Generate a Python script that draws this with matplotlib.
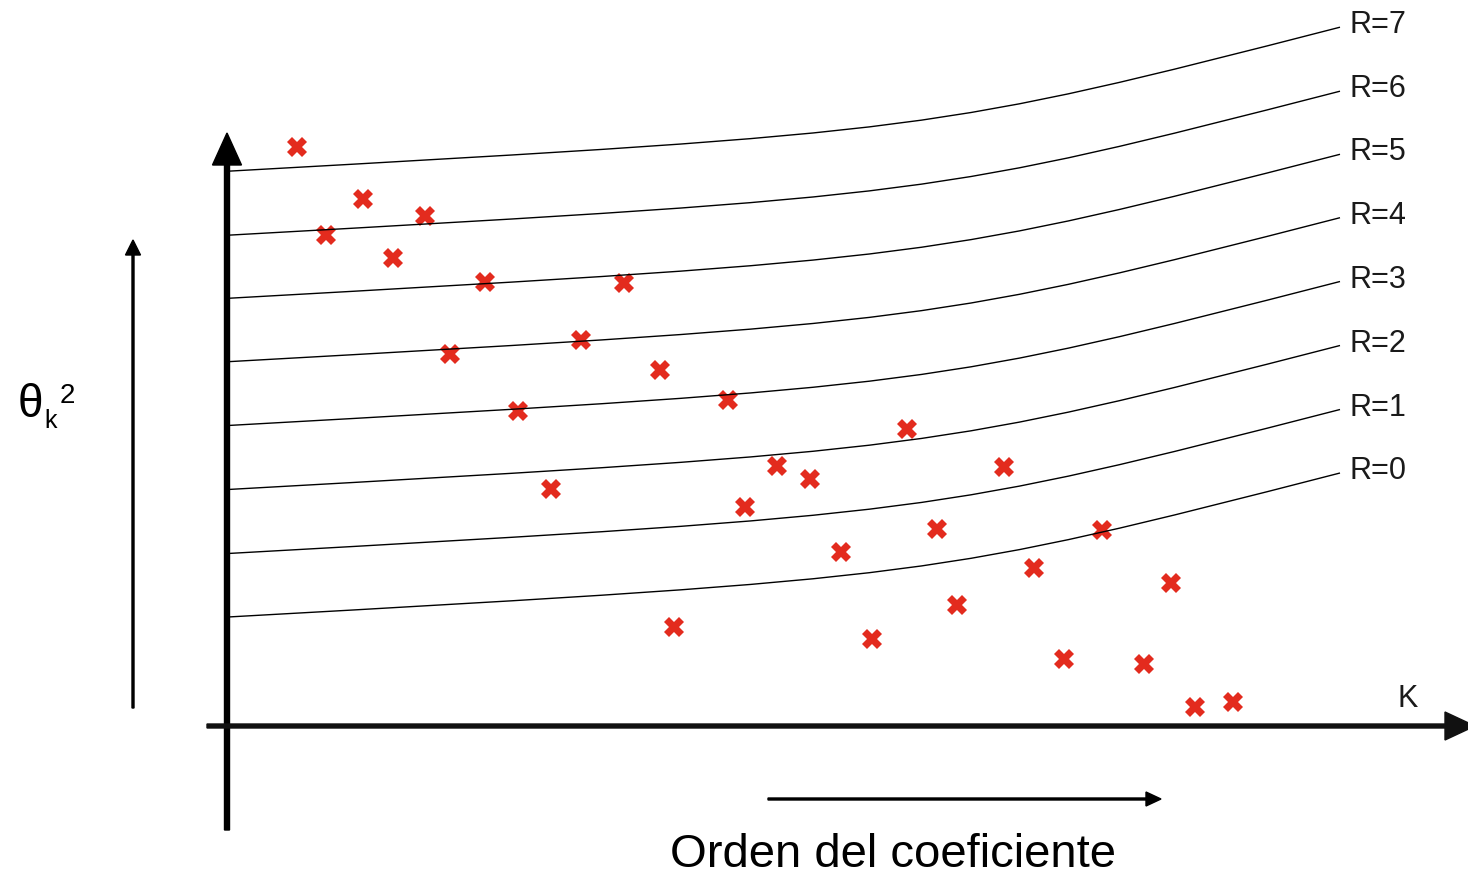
import numpy as np
import matplotlib
matplotlib.use('Agg')
import matplotlib.pyplot as plt
from matplotlib.path import Path
from matplotlib.patches import PathPatch

plt.rcParams['font.family'] = ['Liberation Sans', 'DejaVu Sans']

# posiciones de los coeficientes (K, theta_k^2), unidades de la figura
coef_k = [69, 135, 98, 197, 165, 257, 396, 222, 353, 432, 290, 500, 679, 323, 549,
          582, 776, 517, 709, 874, 613, 806, 943, 729, 446, 644, 836, 916, 967, 1005]
coef_theta = [579, 527, 491, 510, 468, 444, 443, 372, 386, 356, 315, 326, 297, 237, 260,
              247, 259, 219, 197, 196, 174, 158, 143, 121, 99, 87, 67, 62, 19, 24]

# forma comun de las curvas R: inicio, esquina (punto de control) y final
curve_k = [0, 705, 1112]
curve_rise = [0, 39.5, 144]
# valor inicial de cada curva, R=0..7
r_values = [0, 1, 2, 3, 4, 5, 6, 7]
r_start = [109, 172.5, 236.5, 300.5, 364.3, 427.7, 490.8, 554.8]

fig = plt.figure(figsize=(14.68, 8.74), dpi=100)
ax = fig.add_axes([0, 0, 1, 1])
ax.set_xlim(-228, 1240)
ax.set_ylim(-148, 726)
ax.axis('off')

# puntos
ax.plot(coef_k, coef_theta, linestyle='none', marker='X', markersize=14,
        color='#e32b1e', markeredgewidth=0, zorder=2)

# curvas R (bezier cubica)
codes = [Path.MOVETO, Path.CURVE4, Path.CURVE4, Path.CURVE4]
for r, y0 in zip(r_values, r_start):
    verts = [(curve_k[0], y0 + curve_rise[0]),
             (curve_k[1], y0 + curve_rise[1]),
             (curve_k[1], y0 + curve_rise[1]),
             (curve_k[2], y0 + curve_rise[2])]
    ax.add_patch(PathPatch(Path(verts, codes), facecolor='none',
                           edgecolor='black', lw=1.0, zorder=3))
    ax.text(curve_k[-1] + 10, y0 + curve_rise[-1] - 6, f'R={r}', fontsize=22,
            ha='left', va='baseline', color='#1a1a1a')

# ejes con flechas
ax.arrow(-1, -104, 0, 697, width=5, head_width=29, head_length=32,
         length_includes_head=True, color='black', zorder=4)
ax.arrow(-21, 0, 1268, 0, width=4, head_width=28, head_length=30,
         length_includes_head=True, color='#111111', zorder=4)
ax.arrow(-95, 18, 0, 468, width=2, head_width=15, head_length=15,
         length_includes_head=True, color='black')
ax.arrow(540, -73, 393, 0, width=2, head_width=14, head_length=15,
         length_includes_head=True, color='black')

# textos
ax.text(1180, 19, 'K', fontsize=22, ha='center', va='baseline', color='#1a1a1a')
ax.text(665, -141, 'Orden del coeficiente', fontsize=34, ha='center',
        va='baseline', color='black')
ax.text(-210, 309, 'θ', fontsize=33, ha='left', va='baseline', color='black')
ax.text(-184, 298, 'k', fontsize=18, ha='left', va='baseline', color='black')
ax.text(-168, 323, '2', fontsize=20, ha='left', va='baseline', color='black')

fig.savefig('out.png', dpi=100)
